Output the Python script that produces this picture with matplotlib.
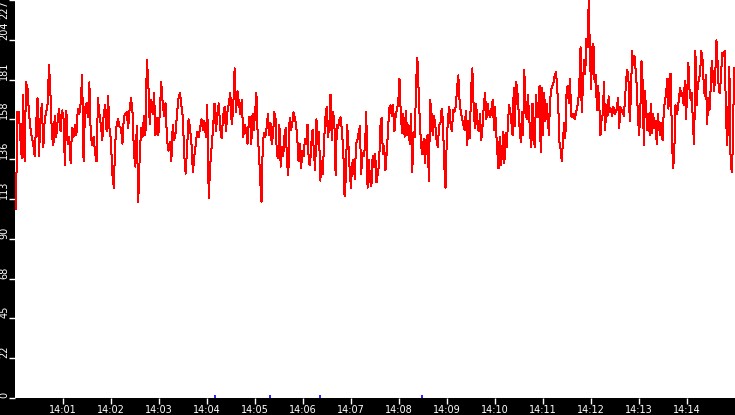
import numpy as np
import matplotlib
matplotlib.use("Agg")
import matplotlib.pyplot as plt

# minutes after 14:00 (three stretches of samples)
seg1_span = (0.02, 4.875)
seg1 = [108, 163, 163, 149, 137, 173, 135, 180, 177, 163, 154, 149, 145, 138, 156, 171, 138, 159, 168, 143,
        159, 163, 168, 190, 173, 150, 144, 161, 149, 158, 165, 152, 164, 161, 133, 164, 145, 149, 134, 154,
        149, 156, 150, 165, 162, 168, 184, 135, 165, 168, 160, 180, 150, 144, 149, 140, 135, 171, 162, 156,
        147, 162, 167, 152, 172, 154, 147, 128, 120, 145, 156, 159, 155, 154, 145, 160, 162, 163, 154, 165,
        171, 163, 140, 132, 155, 112, 137, 154, 149, 161, 150, 193, 180, 156, 170, 162, 174, 150, 160, 150,
        163, 180, 168, 161, 168, 147, 141, 146, 135, 156, 147, 151, 163, 171, 174, 167, 160, 138, 128, 143,
        159, 154, 145, 129, 138, 145, 152, 149, 154, 159, 153, 158, 149, 167, 114, 132, 143, 154, 168, 152,
        162, 168, 154, 148, 161, 166, 152, 163, 168, 174, 156, 165, 188, 163, 175, 168, 162, 170, 149, 156,
        153, 145, 160]

seg2_span = (4.896, 9.98)
seg2 = [160, 145, 162, 153, 163, 174, 150, 140, 124, 112, 145, 151, 149, 154, 162, 150, 157, 145, 150, 163,
        159, 139, 137, 156, 132, 143, 138, 150, 154, 134, 127, 160, 153, 156, 163, 160, 156, 148, 135, 145,
        131, 141, 138, 148, 145, 156, 134, 133, 145, 153, 140, 130, 159, 145, 152, 124, 135, 128, 147, 160,
        166, 149, 154, 173, 147, 163, 158, 127, 156, 154, 159, 160, 152, 141, 115, 126, 156, 145, 130, 120,
        134, 136, 125, 145, 147, 151, 155, 128, 140, 138, 143, 163, 120, 136, 124, 121, 138, 132, 139, 123,
        128, 133, 155, 160, 139, 144, 130, 140, 152, 165, 167, 161, 167, 152, 161, 165, 168, 182, 162, 151,
        162, 149, 164, 150, 156, 145, 162, 129, 152, 149, 180, 194, 175, 156, 143, 139, 148, 134, 147, 150,
        124, 170, 163, 150, 161, 156, 147, 143, 156, 156, 165, 158, 133, 120, 147, 160, 166, 156, 152, 164,
        163, 166, 176, 184, 170, 163, 159, 156, 153, 164, 144, 158, 148, 175, 188, 167, 154, 168, 156, 152,
        162, 147, 155, 167, 174, 159, 168, 162, 160, 165, 170, 153]

seg3_span = (10.0, 14.98)
seg3 = [166, 152, 140, 131, 149, 133, 139, 152, 134, 151, 143, 156, 167, 164, 157, 150, 177, 155, 180, 176,
        165, 154, 146, 163, 150, 187, 166, 159, 173, 163, 150, 143, 168, 149, 143, 173, 162, 160, 178, 140,
        177, 150, 174, 158, 168, 161, 150, 170, 176, 178, 180, 184, 186, 178, 166, 146, 142, 135, 147, 157,
        148, 173, 178, 168, 182, 161, 160, 162, 159, 162, 166, 168, 180, 200, 163, 177, 193, 185, 205, 200,
        227, 197, 176, 200, 202, 180, 184, 164, 178, 167, 150, 159, 162, 180, 153, 167, 161, 172, 163, 165,
        161, 166, 162, 163, 165, 171, 154, 166, 163, 164, 161, 171, 182, 187, 180, 158, 173, 198, 190, 195,
        187, 178, 160, 150, 163, 192, 180, 144, 175, 163, 153, 162, 150, 168, 151, 162, 154, 158, 145, 162,
        154, 150, 157, 147, 163, 170, 173, 182, 165, 184, 185, 147, 131, 140, 167, 162, 165, 171, 177, 172,
        174, 167, 181, 159, 174, 191, 176, 170, 174, 154, 145, 198, 167, 178, 182, 185, 198, 194, 181, 172,
        184, 156, 171, 164, 176, 192, 184, 175, 185, 204, 191, 175, 174, 185, 197, 195, 198, 166, 144, 158,
        189, 138, 129, 143, 188]

# small blue blips near zero
blip_times = [4.17, 5.31, 6.35, 8.48]
blip_values = [1.5, 1.5, 1.5, 1.5]

y_max = 227
ytick_labels = ["0", "22", "45", "68", "90", "113", "136", "158", "181", "204", "227"]
xtick_minutes = list(range(1, 15))
xtick_labels = ["14:%02d" % m for m in xtick_minutes]

times, values = [], []
for span, seg in [(seg1_span, seg1), (seg2_span, seg2), (seg3_span, seg3)]:
    times.extend(np.linspace(span[0], span[1], len(seg)))
    values.extend(seg)

fig = plt.figure(figsize=(7.35, 4.15), dpi=100, facecolor="black")
ax = fig.add_axes([15 / 735, 17 / 415, 720 / 735, 398 / 415])
ax.set_facecolor("white")

# 1px wide, crisp like the original
ax.plot(times, values, color="red", linewidth=0.72, antialiased=False)
ax.vlines(blip_times, 0, blip_values, color="blue", linewidth=1.2)

ax.set_xlim(0, 15)
ax.set_ylim(0, y_max)

ax.set_xticks(xtick_minutes)
ax.set_xticklabels(xtick_labels)
ax.set_yticks(np.linspace(0, y_max, len(ytick_labels)))
ax.set_yticklabels(ytick_labels, rotation=90, va="bottom")
ax.get_yticklabels()[-1].set_va("top")

ax.tick_params(colors="white", labelcolor="white", labelsize=7, length=4, width=1, pad=1)
ax.tick_params(axis="y", pad=0)
for s in ax.spines.values():
    s.set_visible(False)

fig.savefig("out.png", dpi=100, facecolor="black")
